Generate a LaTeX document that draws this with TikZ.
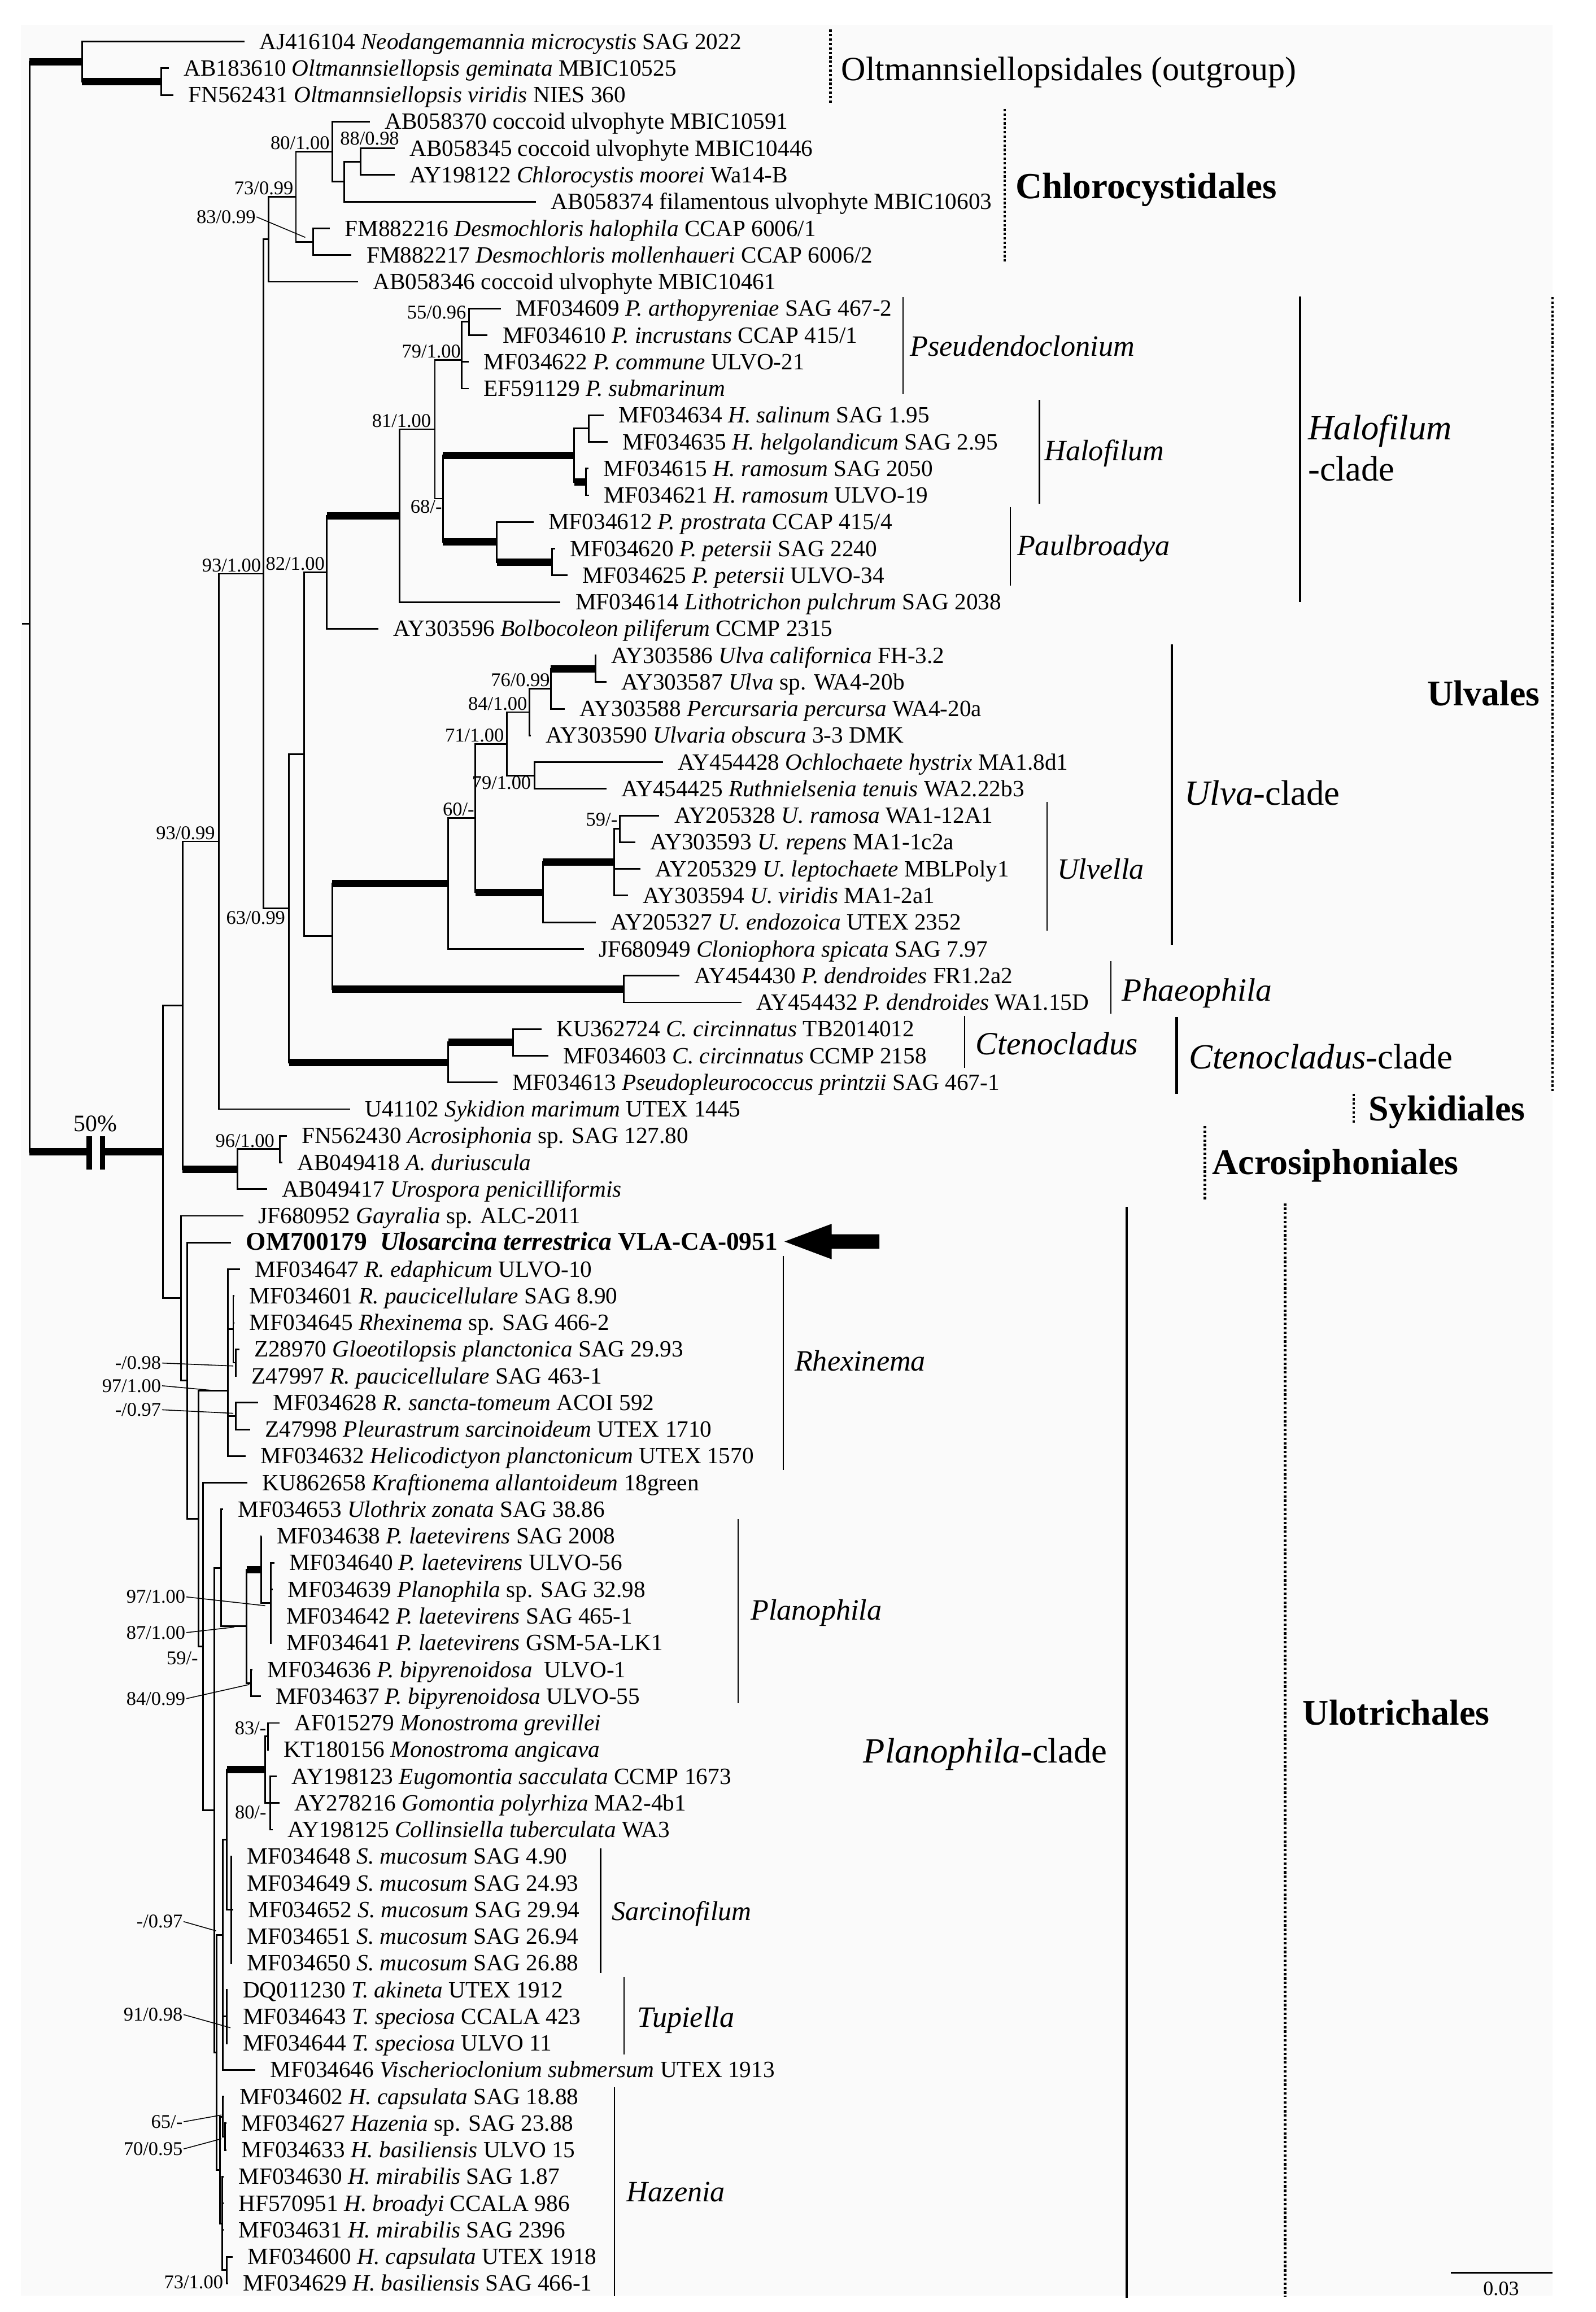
\documentclass[tikz,border=0pt]{standalone}
\usepackage{fontspec}
\setmainfont{Liberation Serif}
\newcommand\tipat[4]{\pgfmathsetmacro\tpY{28.2+18.1*#2}\node[tip] (#1) at (#3,\tpY) {#4};}
\newcommand\ed[2]{\draw[br] (#1) |- (#2);}
\newcommand\edt[2]{\draw[br] (#1) |- (#2.west);}
\newcommand\edk[2]{\draw[br] (#1) |- (#2); \draw[thk] (#1 |- #2) -- (#2);}
\newcommand\cbar[5]{\coordinate (#1a) at (#2,#3); \coordinate (#1b) at (#2,#4); \draw[#5] (#1a) -- (#1b);}
\newcommand\fs[1]{\fontsize{#1}{#1}\selectfont}
\begin{document}
\begin{tikzpicture}[x=1pt,y=-1pt,
  br/.style={line width=1.1pt},
  thk/.style={line width=5pt},
  tip/.style={anchor=west,inner xsep=10pt,inner ysep=0pt,text height=10.4pt,text depth=0pt,font=\fs{15.8}},
  sup/.style={anchor=base east,inner sep=0.5pt,font=\fs{13.2}},
  lead/.style={line width=0.6pt},
  clab/.style={anchor=base west,inner sep=0pt},
  thinbar/.style={line width=0.8pt},
  widebar/.style={line width=1.6pt},
  dotbar/.style={line width=1.8pt,dash pattern=on 1.6pt off 1.4pt}]
\useasboundingbox (0,0) rectangle (1082,1568);
\fill[white] (0,0) rectangle (1082,1568);
\fill[black!2] (14,17) rectangle (1053,1557);

% ---------- internal nodes ----------
\coordinate (root) at (20.1,423);
\coordinate (rtick) at (15,423);
\coordinate (O1) at (55.7,41.8);
\coordinate (O2) at (109.2,55.35);
\coordinate (IG) at (110.6,781.1);
\coordinate (NA) at (123.8,681.8);
\coordinate (NS) at (148.4,570.65);
\coordinate (NP) at (178.8,389.1);
\coordinate (CC) at (182,162.25);
\coordinate (C73) at (200.7,133.4);
\coordinate (C80) at (225.3,102.85);
\coordinate (Ca) at (233.3,123.2);
\coordinate (C88) at (244.7,109.65);
\coordinate (CD) at (212.5,163.95);
\coordinate (N63) at (196,616);
\coordinate (N206) at (206.2,511.5);
\coordinate (N82) at (221.6,388.05);
\coordinate (NL) at (271.1,349.7);
\coordinate (N81) at (294.9,291.1);
\coordinate (P79) at (313.2,244);
\coordinate (P55) at (318,218.25);
\coordinate (N68) at (300.4,338.2);
\coordinate (H0) at (389.4,308.75);
\coordinate (H1) at (399.3,290.65);
\coordinate (H2) at (397.4,326.85);
\coordinate (Pa) at (337,367.6);
\coordinate (Pb) at (374.4,381.15);
\coordinate (NUv) at (225.3,634.95);
\coordinate (U60) at (304,599.2);
\coordinate (V60) at (322.3,554.8);
\coordinate (V71) at (343.6,504.45);
\coordinate (V84) at (359,482.95);
\coordinate (V76) at (373.6,467.1);
\coordinate (V1) at (404,453.55);
\coordinate (V79) at (362.6,525.95);
\coordinate (Vu) at (368.1,605.15);
\coordinate (Vb) at (416.5,584.8);
\coordinate (V59) at (420.5,562.15);
\coordinate (Ph) at (423.1,670.75);
\coordinate (Ct1) at (304,720.5);
\coordinate (Ct2) at (348,706.95);
\coordinate (A1) at (161.2,792.9);
\coordinate (A96) at (189.7,779.35);
\coordinate (NUl) at (122.7,880.45);
\coordinate (B0) at (127,936.3);
\coordinate (B1) at (134.6,1029.9);
\coordinate (R0) at (154.7,943.2);
\coordinate (R1) at (158.2,901.5);
\coordinate (R2) at (159.8,924.15);
\coordinate (R3) at (159.8,960.35);
\coordinate (B2) at (137.8,1116.6);
\coordinate (B3) at (145.5,1227.65);
\coordinate (U1) at (150,1063.3);
\coordinate (PN) at (167.2,1102.9);
\coordinate (PL1) at (177.1,1064.4);
\coordinate (PL2) at (183.8,1087.05);
\coordinate (PB) at (170.4,1141.35);
\coordinate (B4) at (146.8,1392);
\coordinate (C1) at (151.2,1312.3);
\coordinate (C2) at (153.8,1247.7);
\coordinate (M0) at (179.9,1200.2);
\coordinate (M83) at (181.8,1177.55);
\coordinate (M80) at (183.1,1222.8);
\coordinate (S0) at (156.8,1295.2);
\coordinate (TU) at (153.8,1367.6);
\coordinate (Hz) at (149.3,1471.7);
\coordinate (Hz1) at (151.2,1435.5);
\coordinate (Hz1b) at (152.5,1449.05);
\coordinate (Hz2) at (150.6,1507.9);
\coordinate (H73) at (153.8,1539.55);

% ---------- tips ----------
\tipat{t0}{0}{165.8}{AJ416104 \textit{Neodangemannia microcystis} SAG 2022}
\tipat{t1}{1}{114.5}{AB183610 \textit{Oltmannsiellopsis geminata} MBIC10525}
\tipat{t2}{2}{117.5}{FN562431 \textit{Oltmannsiellopsis viridis} NIES 360}
\tipat{t3}{3}{250.8}{AB058370 coccoid ulvophyte MBIC10591}
\tipat{t4}{4}{267.7}{AB058345 coccoid ulvophyte MBIC10446}
\tipat{t5}{5}{267.7}{AY198122 \textit{Chlorocystis moorei} Wa14-B}
\tipat{t6}{6}{363.6}{AB058374 filamentous ulvophyte MBIC10603}
\tipat{t7}{7}{223.7}{FM882216 \textit{Desmochloris halophila} CCAP 6006/1}
\tipat{t8}{8}{238.4}{FM882217 \textit{Desmochloris mollenhaueri} CCAP 6006/2}
\tipat{t9}{9}{242.7}{AB058346 coccoid ulvophyte MBIC10461}
\tipat{t10}{10}{339.8}{MF034609 \textit{P. arthopyreniae} SAG 467-2}
\tipat{t11}{11}{330.7}{MF034610 \textit{P. incrustans} CCAP 415/1}
\tipat{t12}{12}{317.8}{MF034622 \textit{P. commune} ULVO-21}
\tipat{t13}{13}{317.8}{EF591129 \textit{P. submarinum}}
\tipat{t14}{14}{409.4}{MF034634 \textit{H. salinum} SAG 1.95}
\tipat{t15}{15}{412}{MF034635 \textit{H. helgolandicum} SAG 2.95}
\tipat{t16}{16}{399}{MF034615 \textit{H. ramosum} SAG 2050}
\tipat{t17}{17}{399.5}{MF034621 \textit{H. ramosum} ULVO-19}
\tipat{t18}{18}{361.8}{MF034612 \textit{P. prostrata} CCAP 415/4}
\tipat{t19}{19}{376.4}{MF034620 \textit{P. petersii} SAG 2240}
\tipat{t20}{20}{384.9}{MF034625 \textit{P. petersii} ULVO-34}
\tipat{t21}{21}{380.1}{MF034614 \textit{Lithotrichon pulchrum} SAG 2038}
\tipat{t22}{22}{256.7}{AY303596 \textit{Bolbocoleon piliferum} CCMP 2315}
\tipat{t23}{23}{404.5}{AY303586 \textit{Ulva californica} FH-3.2}
\tipat{t24}{24}{411.2}{AY303587 \textit{Ulva} sp. WA4-20b}
\tipat{t25}{25}{383}{AY303588 \textit{Percursaria percursa} WA4-20a}
\tipat{t26}{26}{360}{AY303590 \textit{Ulvaria obscura} 3-3 DMK}
\tipat{t27}{27}{449.7}{AY454428 \textit{Ochlochaete hystrix} MA1.8d1}
\tipat{t28}{28}{411.2}{AY454425 \textit{Ruthnielsenia tenuis} WA2.22b3}
\tipat{t29}{29}{447.1}{AY205328 \textit{U. ramosa} WA1-12A1}
\tipat{t30}{30}{430.7}{AY303593 \textit{U. repens} MA1-1c2a}
\tipat{t31}{31}{434.3}{AY205329 \textit{U. leptochaete} MBLPoly1}
\tipat{t32}{32}{425.9}{AY303594 \textit{U. viridis} MA1-2a1}
\tipat{t33}{33}{403.9}{AY205327 \textit{U. endozoica} UTEX 2352}
\tipat{t34}{34}{395.9}{JF680949 \textit{Cloniophora spicata} SAG 7.97}
\tipat{t35}{35}{460.7}{AY454430 \textit{P. dendroides} FR1.2a2}
\tipat{t36}{36}{502.8}{AY454432 \textit{P. dendroides} WA1.15D}
\tipat{t37}{37}{367.3}{KU362724 \textit{C. circinnatus} TB2014012}
\tipat{t38}{38}{371.7}{MF034603 \textit{C. circinnatus} CCMP 2158}
\tipat{t39}{39}{337.3}{MF034613 \textit{Pseudopleurococcus printzii} SAG 467-1}
\tipat{t40}{40}{237.3}{U41102 \textit{Sykidion marimum} UTEX 1445}
\tipat{t41}{41}{194.4}{FN562430 \textit{Acrosiphonia} sp. SAG 127.80}
\tipat{t42}{42}{191.5}{AB049418 \textit{A. duriuscula}}
\tipat{t43}{43}{181.2}{AB049417 \textit{Urospora penicilliformis}}
\tipat{t44}{44}{165.1}{JF680952 \textit{Gayralia} sp. ALC-2011}
\tipat{t45}{45}{156.7}{\fs{17.4}\bfseries OM700179\ \ \textit{Ulosarcina terrestrica} VLA-CA-0951}
\tipat{t46}{46}{162.9}{MF034647 \textit{R. edaphicum} ULVO-10}
\tipat{t47}{47}{159}{MF034601 \textit{R. paucicellulare} SAG 8.90}
\tipat{t48}{48}{159}{MF034645 \textit{Rhexinema} sp. SAG 466-2}
\tipat{t49}{49}{162.2}{Z28970 \textit{Gloeotilopsis planctonica} SAG 29.93}
\tipat{t50}{50}{160.5}{Z47997 \textit{R. paucicellulare} SAG 463-1}
\tipat{t51}{51}{175}{MF034628 \textit{R. sancta-tomeum} ACOI 592}
\tipat{t52}{52}{169.5}{Z47998 \textit{Pleurastrum sarcinoideum} UTEX 1710}
\tipat{t53}{53}{166.6}{MF034632 \textit{Helicodictyon planctonicum} UTEX 1570}
\tipat{t54}{54}{167.7}{KU862658 \textit{Kraftionema allantoideum} 18green}
\tipat{t55}{55}{151.2}{MF034653 \textit{Ulothrix zonata} SAG 38.86}
\tipat{t56}{56}{177.5}{MF034638 \textit{P. laetevirens} SAG 2008}
\tipat{t57}{57}{186}{MF034640 \textit{P. laetevirens} ULVO-56}
\tipat{t58}{58}{184.9}{MF034639 \textit{Planophila} sp. SAG 32.98}
\tipat{t59}{59}{184.1}{MF034642 \textit{P. laetevirens} SAG 465-1}
\tipat{t60}{60}{184.1}{MF034641 \textit{P. laetevirens} GSM-5A-LK1}
\tipat{t61}{61}{171.3}{MF034636 \textit{P. bipyrenoidosa}\ \ ULVO-1}
\tipat{t62}{62}{176.8}{MF034637 \textit{P. bipyrenoidosa} ULVO-55}
\tipat{t63}{63}{189.6}{AF015279 \textit{Monostroma grevillei}}
\tipat{t64}{64}{182.3}{KT180156 \textit{Monostroma angicava}}
\tipat{t65}{65}{187.8}{AY198123 \textit{Eugomontia sacculata} CCMP 1673}
\tipat{t66}{66}{189.6}{AY278216 \textit{Gomontia polyrhiza} MA2-4b1}
\tipat{t67}{67}{184.9}{AY198125 \textit{Collinsiella tuberculata} WA3}
\tipat{t68}{68}{157.5}{MF034648 \textit{S. mucosum} SAG 4.90}
\tipat{t69}{69}{157.5}{MF034649 \textit{S. mucosum} SAG 24.93}
\tipat{t70}{70}{158.2}{MF034652 \textit{S. mucosum} SAG 29.94}
\tipat{t71}{71}{157.5}{MF034651 \textit{S. mucosum} SAG 26.94}
\tipat{t72}{72}{157.5}{MF034650 \textit{S. mucosum} SAG 26.88}
\tipat{t73}{73}{154.5}{DQ011230 \textit{T. akineta} UTEX 1912}
\tipat{t74}{74}{154.5}{MF034643 \textit{T. speciosa} CCALA 423}
\tipat{t75}{75}{154.5}{MF034644 \textit{T. speciosa} ULVO 11}
\tipat{t76}{76}{173.2}{MF034646 \textit{Vischerioclonium submersum} UTEX 1913}
\tipat{t77}{77}{152.2}{MF034602 \textit{H. capsulata} SAG 18.88}
\tipat{t78}{78}{153.5}{MF034627 \textit{Hazenia} sp. SAG 23.88}
\tipat{t79}{79}{153.5}{MF034633 \textit{H. basiliensis} ULVO 15}
\tipat{t80}{80}{151.6}{MF034630 \textit{H. mirabilis} SAG 1.87}
\tipat{t81}{81}{151.6}{HF570951 \textit{H. broadyi} CCALA 986}
\tipat{t82}{82}{151.6}{MF034631 \textit{H. mirabilis} SAG 2396}
\tipat{t83}{83}{157.8}{MF034600 \textit{H. capsulata} UTEX 1918}
\tipat{t84}{84}{154.8}{MF034629 \textit{H. basiliensis} SAG 466-1}

% ---------- branches ----------
\draw[br] (rtick) -- (root);
\edk{root}{O1} \edk{root}{IG}
\edt{O1}{t0} \edk{O1}{O2}
\edt{O2}{t1} \edt{O2}{t2}
\ed{IG}{NA} \ed{IG}{NUl}
\ed{NA}{NS} \edk{NA}{A1}
\ed{NS}{NP} \edt{NS}{t40}
\ed{NP}{CC} \ed{NP}{N63}
\ed{CC}{C73} \edt{CC}{t9}
\ed{C73}{C80} \ed{C73}{CD}
\edt{C80}{t3} \ed{C80}{Ca}
\ed{Ca}{C88} \edt{Ca}{t6}
\edt{C88}{t4} \edt{C88}{t5}
\edt{CD}{t7} \edt{CD}{t8}
\ed{N63}{N206} \edk{N63}{Ct1}
\ed{N206}{N82} \ed{N206}{NUv}
\edk{N82}{NL} \edt{N82}{t22}
\ed{NL}{N81} \edt{NL}{t21}
\ed{N81}{P79} \ed{N81}{N68}
\ed{P79}{P55} \edt{P79}{t12} \edt{P79}{t13}
\edt{P55}{t10} \edt{P55}{t11}
\edk{N68}{H0} \edk{N68}{Pa}
\ed{H0}{H1} \edk{H0}{H2}
\edt{H1}{t14} \edt{H1}{t15} \edt{H2}{t16} \edt{H2}{t17}
\edt{Pa}{t18} \edk{Pa}{Pb} \edt{Pb}{t19} \edt{Pb}{t20}
\edk{NUv}{U60} \edk{NUv}{Ph}
\edt{Ph}{t35} \edt{Ph}{t36}
\ed{U60}{V60} \edt{U60}{t34}
\ed{V60}{V71} \edk{V60}{Vu}
\ed{V71}{V84} \ed{V71}{V79}
\ed{V84}{V76} \edt{V84}{t26}
\edk{V76}{V1} \edt{V76}{t25}
\edt{V1}{t23} \edt{V1}{t24}
\edt{V79}{t27} \edt{V79}{t28}
\edk{Vu}{Vb} \edt{Vu}{t33}
\ed{Vb}{V59} \edt{Vb}{t31} \edt{Vb}{t32}
\edt{V59}{t29} \edt{V59}{t30}
\edk{Ct1}{Ct2} \edt{Ct1}{t39}
\edt{Ct2}{t37} \edt{Ct2}{t38}
\ed{A1}{A96} \edt{A1}{t43}
\edt{A96}{t41} \edt{A96}{t42}
\edt{NUl}{t44} \ed{NUl}{B0}
\edt{B0}{t45} \ed{B0}{B1}
\ed{B1}{R0} \ed{B1}{B2}
\edt{R0}{t46} \ed{R0}{R1} \ed{R0}{R3} \edt{R0}{t53}
\edt{R1}{t47} \edt{R1}{t48} \ed{R1}{R2}
\edt{R2}{t49} \edt{R2}{t50}
\edt{R3}{t51} \edt{R3}{t52}
\edt{B2}{t54} \ed{B2}{B3}
\ed{B3}{U1} \ed{B3}{B4}
\edt{U1}{t55} \ed{U1}{PN}
\edk{PN}{PL1} \ed{PN}{PB}
\edt{PL1}{t56} \ed{PL1}{PL2}
\edt{PL2}{t57} \edt{PL2}{t58} \edt{PL2}{t59} \edt{PL2}{t60}
\edt{PB}{t61} \edt{PB}{t62}
\ed{B4}{C1} \ed{B4}{Hz}
\ed{C1}{C2} \ed{C1}{TU} \edt{C1}{t76}
\edk{C2}{M0} \ed{C2}{S0}
\ed{M0}{M83} \ed{M0}{M80}
\edt{M83}{t63} \edt{M83}{t64}
\edt{M80}{t65} \edt{M80}{t66} \edt{M80}{t67}
\edt{S0}{t68} \edt{S0}{t69} \edt{S0}{t70} \edt{S0}{t71} \edt{S0}{t72}
\edt{TU}{t73} \edt{TU}{t74} \edt{TU}{t75}
\ed{Hz}{Hz1} \ed{Hz}{Hz2}
\edt{Hz1}{t77} \ed{Hz1}{Hz1b}
\edt{Hz1b}{t78} \edt{Hz1b}{t79}
\edt{Hz2}{t80} \edt{Hz2}{t81} \edt{Hz2}{t82} \ed{Hz2}{H73}
\edt{H73}{t83} \edt{H73}{t84}

% 50% break on the ingroup branch
\fill[black!2] (62.3,776) rectangle (67.8,786.5);
\fill (58.6,770.5) rectangle (62.3,793.1);
\fill (67.8,770.5) rectangle (71.4,793.1);
\node[anchor=base,inner sep=0pt,font=\fs{16}] (brk) at (64.7,767.3) {50\%};

% ---------- support values ----------
\node[sup] (s80) at (224.2,101.3) {80/1.00};
\node[sup,anchor=base west] (s88) at (230,98.4) {88/0.98};
\node[sup] (s73) at (199.6,131.9) {73/0.99};
\node[sup] (s83) at (174,151.4) {83/0.99};
\node[sup] (s55) at (316.8,216.3) {55/0.96};
\node[sup] (s79a) at (313.2,242.5) {79/1.00};
\node[sup] (s81) at (293,289.6) {81/1.00};
\node[sup] (s68) at (300.4,348.1) {68/-};
\node[sup] (s93a) at (177.7,387.6) {93/1.00};
\node[sup] (s82) at (220.9,386.5) {82/1.00};
\node[sup] (s76) at (373.6,465.6) {76/0.99};
\node[sup] (s84) at (358.2,481.5) {84/1.00};
\node[sup] (s71) at (342.5,503) {71/1.00};
\node[sup] (s79b) at (360.8,535.4) {79/1.00};
\node[sup] (s60) at (322.3,553.3) {60/-};
\node[sup] (s59a) at (419.4,560.2) {59/-};
\node[sup] (s93b) at (146.5,569.2) {93/0.99};
\node[sup] (s63) at (194.1,626.9) {63/0.99};
\node[sup] (s96) at (186.8,777.9) {96/1.00};
\node[sup] (s98) at (109.9,928.7) {-/0.98};
\node[sup] (s97a) at (109.9,944.1) {97/1.00};
\node[sup] (s97b) at (109.9,960.4) {-/0.97};
\node[sup] (s97c) at (126.4,1087.3) {97/1.00};
\node[sup] (s87) at (126.4,1111.5) {87/1.00};
\node[sup] (s59b) at (135,1128.9) {59/-};
\node[sup] (s84b) at (126.4,1156.3) {84/0.99};
\node[sup] (s83b) at (181.2,1176.5) {83/-};
\node[sup] (s80b) at (181.3,1233.3) {80/-};
\node[sup] (s97d) at (124.5,1307.5) {-/0.97};
\node[sup] (s91) at (124.5,1370.6) {91/0.98};
\node[sup] (s65) at (124.5,1443.3) {65/-};
\node[sup] (s70) at (124.5,1461.7) {70/0.95};
\node[sup] (s73b) at (152,1551.9) {73/1.00};

\coordinate (L83) at (207,161);
\coordinate (L98) at (158.2,926.4);
\coordinate (L97a) at (146.5,943.2);
\coordinate (L97b) at (158.2,958.5);
\coordinate (L97c) at (179.9,1089);
\coordinate (L87) at (158.9,1103.5);
\coordinate (L84b) at (169.1,1142.4);
\coordinate (L97d) at (146.5,1309.5);
\coordinate (L91) at (156.3,1375.2);
\coordinate (L65) at (150.2,1434.4);
\coordinate (L70) at (150.2,1450.5);
\draw[lead] (s83.east) -- (L83);
\draw[lead] (s98.east) -- (L98);
\draw[lead] (s97a.east) -- (L97a);
\draw[lead] (s97b.east) -- (L97b);
\draw[lead] (s97c.east) -- (L97c);
\draw[lead] (s87.east) -- (L87);
\draw[lead] (s84b.east) -- (L84b);
\draw[lead] (s97d.east) -- (L97d);
\draw[lead] (s91.east) -- (L91);
\draw[lead] (s65.east) -- (L65);
\draw[lead] (s70.east) -- (L70);

% ---------- arrow to the new strain ----------
\coordinate (arT) at (532,842);
\fill (arT) -- (564,830) -- (564,837.1) -- (596.4,837.1) -- (596.4,846.9) -- (564,846.9) -- (564,854) -- cycle;

% ---------- clade bars ----------
\cbar{bPs}{612.5}{201.5}{267.3}{thinbar}
\cbar{bHa}{704.9}{271.3}{341.7}{thinbar}
\cbar{bPa}{685.1}{343.8}{397}{thinbar}
\cbar{bHc}{881.5}{200.9}{408.3}{widebar}
\cbar{bUc}{794.7}{437}{640.6}{widebar}
\cbar{bUv}{710.1}{544}{631.3}{thinbar}
\cbar{bPh}{753.3}{651.8}{687.5}{thinbar}
\cbar{bCt}{654.2}{689}{724.1}{thinbar}
\cbar{bCc}{798}{689.9}{741.7}{widebar}
\cbar{bRh}{531.2}{851.7}{997}{thinbar}
\cbar{bPl}{500.7}{1030.4}{1155}{thinbar}
\cbar{bPc}{764.1}{818.6}{1558.5}{widebar}
\cbar{bSa}{407.3}{1253.6}{1338}{thinbar}
\cbar{bTu}{423.1}{1341}{1393.3}{thinbar}
\cbar{bHz}{416.8}{1415.6}{1557.2}{thinbar}
\cbar{dOl}{563.3}{20.1}{69.8}{dotbar}
\cbar{dCh}{681.4}{73.9}{177.3}{dotbar}
\cbar{dUv}{1052.9}{201.5}{740.3}{dotbar}
\cbar{dSy}{918}{741.7}{762.2}{dotbar}
\cbar{dAc}{817}{763.7}{813.5}{dotbar}
\cbar{dUl}{871.4}{816}{1557.5}{dotbar}

% ---------- clade labels ----------
\node[clab,font=\fs{23}] (lOl) at (570.4,54.6) {Oltmannsiellopsidales (outgroup)};
\node[clab,font=\fs{25}\bfseries] (lCh) at (688.5,134.5) {Chlorocystidales};
\node[clab,font=\fs{20}\itshape] (lPs) at (617,241.6) {Pseudendoclonium};
\node[clab,font=\fs{20}\itshape] (lHa) at (708.2,312.3) {Halofilum};
\node[clab,font=\fs{20}\itshape] (lPa) at (689.6,376.7) {Paulbroadya};
\node[clab,font=\fs{24}\itshape] (lHc1) at (887,298) {Halofilum};
\node[clab,font=\fs{24}] (lHc2) at (887,326.2) {-clade};
\node[clab,font=\fs{24.5}\bfseries] (lUv) at (967.9,478.7) {Ulvales};
\node[clab,font=\fs{24}] (lUc) at (803.2,546) {\textit{Ulva}-clade};
\node[clab,font=\fs{20}\itshape] (lUl) at (716.8,596) {Ulvella};
\node[clab,font=\fs{22}\itshape] (lPh) at (760.8,678.7) {Phaeophila};
\node[clab,font=\fs{22}\itshape] (lCt) at (661.6,715.3) {Ctenocladus};
\node[clab,font=\fs{24}] (lCc) at (806.2,724.7) {\textit{Ctenocladus}-clade};
\node[clab,font=\fs{24.5}\bfseries] (lSy) at (928,760) {Sykidiales};
\node[clab,font=\fs{24.5}\bfseries] (lAc) at (821.9,796.6) {Acrosiphoniales};
\node[clab,font=\fs{20}\itshape] (lRh) at (538.7,929.9) {Rhexinema};
\node[clab,font=\fs{20}\itshape] (lPl) at (508.9,1098.8) {Planophila};
\node[clab,font=\fs{24}] (lPc) at (585.3,1195.5) {\textit{Planophila}-clade};
\node[clab,font=\fs{24.5}\bfseries] (lUo) at (883.3,1169.8) {Ulotrichales};
\node[clab,font=\fs{18.5}\itshape] (lSa) at (414.6,1302.5) {Sarcinofilum};
\node[clab,font=\fs{20}\itshape] (lTu) at (432.2,1374.7) {Tupiella};
\node[clab,font=\fs{20}\itshape] (lHz) at (424.9,1493) {Hazenia};

% ---------- scale bar ----------
\coordinate (sb1) at (984,1541.5);
\coordinate (sb2) at (1052.9,1541.5);
\draw[br] (sb1) -- (sb2);
\node[anchor=base,inner sep=0pt,font=\fs{13.8}] (sbl) at (1018,1556.6) {0.03};
\end{tikzpicture}
\end{document}
